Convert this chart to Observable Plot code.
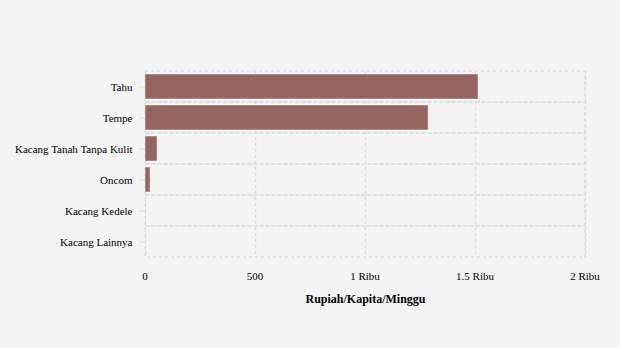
<!DOCTYPE html>
<html><head><meta charset="utf-8">
<script src="https://cdn.jsdelivr.net/npm/d3@7"></script>
<script src="https://cdn.jsdelivr.net/npm/@observablehq/plot@0.6"></script>
<style>
html,body{margin:0;padding:0;background:#f4f4f4;}
#chart svg{display:block;background:#f4f4f4;}
</style></head>
<body><div id="chart"></div>
<script>
const categories = ["Tahu","Tempe","Kacang Tanah Tanpa Kulit","Oncom","Kacang Kedele","Kacang Lainnya"];
const values = [1514, 1287, 55, 23, 1, 0.5];
const xTicks = [0, 500, 1000, 1500, 2000];
const xTickLabels = ["0", "500", "1 Ribu", "1.5 Ribu", "2 Ribu"];
const axisTitle = "Rupiah/Kapita/Minggu";

const data = categories.map((c, i) => ({category: c, value: values[i]}));
const gridColor = "#dcdcdc";

const chart = Plot.plot({
  width: 620,
  height: 348,
  marginLeft: 145,
  marginRight: 35,
  marginTop: 71,
  marginBottom: 91,
  style: {background: "#f4f4f4", fontFamily: "'Liberation Serif', 'Times New Roman', serif", fontSize: "11px", color: "#000"},
  x: {domain: [0, 2000]},
  y: {domain: categories, padding: 0},
  marks: [
    Plot.barX(categories, {y: d => d, x1: 0, x2: 2000, fill: "none", stroke: gridColor, strokeWidth: 1.5, strokeDasharray: "3,3"}),
    Plot.ruleX(xTicks, {stroke: gridColor, strokeWidth: 1.5, strokeDasharray: "3,3"}),
    Plot.barX(data, {y: "category", x: "value", fill: "#956560", stroke: "#fff", strokeOpacity: 0.5, strokeWidth: 1, insetTop: 3, insetBottom: 3}),
    Plot.axisY({tickSize: 6, tickPadding: 7, stroke: "#ddd", label: null, fill: "#000"}),
    Plot.axisX({ticks: xTicks, tickSize: 0, tickPadding: 15, tickFormat: (d) => xTickLabels[xTicks.indexOf(d)], label: null, fill: "#000", dx: -0.5}),
    Plot.text([axisTitle], {text: d => d, frameAnchor: "bottom", dy: 45, fontWeight: "bold", fontSize: 12, fill: "#000"})
  ]
});
document.getElementById("chart").appendChild(chart);
</script></body></html>
